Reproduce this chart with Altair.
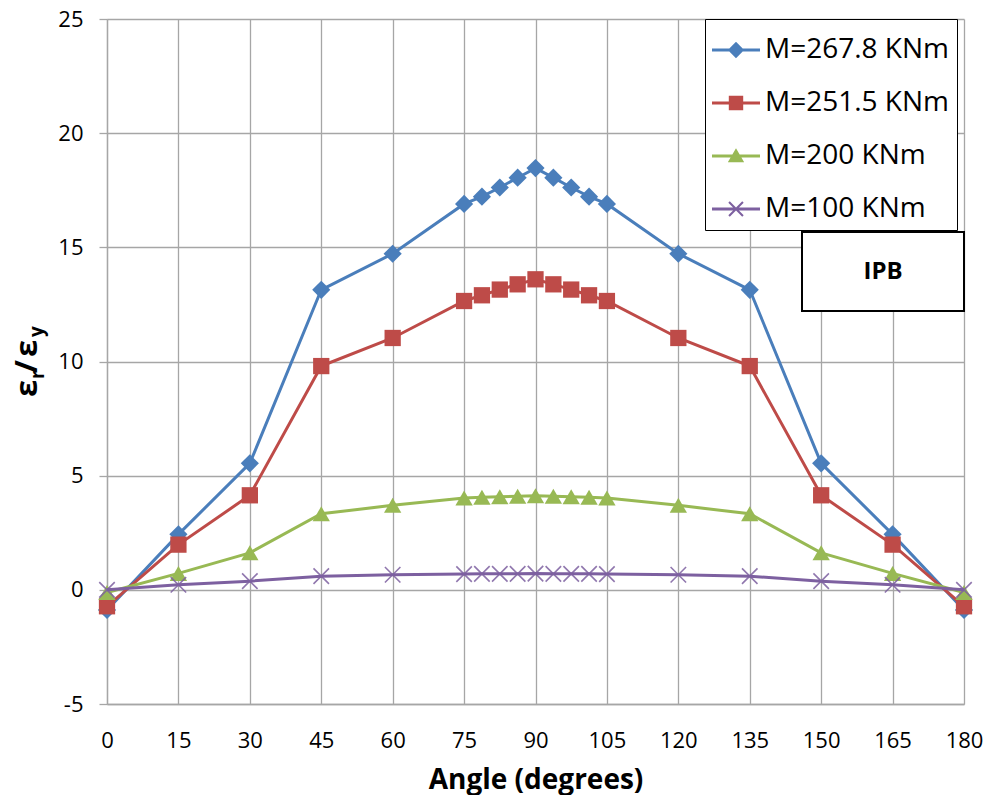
import altair as alt
import pandas as pd

# ---------------- data ----------------
angles = [0, 15, 30, 45, 60, 75, 78.75, 82.5, 86.25, 90, 93.75, 97.5, 101.25, 105, 120, 135, 150, 165, 180]
names = ["M=267.8 KNm", "M=251.5 KNm", "M=200 KNm", "M=100 KNm"]
m267 = [-0.88, 2.43, 5.54, 13.14, 14.72, 16.9, 17.22, 17.62, 18.05, 18.47, 18.05, 17.62, 17.22, 16.9, 14.72, 13.14, 5.54, 2.43, -0.88]
m251 = [-0.72, 1.98, 4.14, 9.8, 11.03, 12.65, 12.9, 13.15, 13.38, 13.6, 13.38, 13.15, 12.9, 12.65, 11.03, 9.8, 4.14, 1.98, -0.72]
m200 = [-0.12, 0.72, 1.62, 3.33, 3.7, 4.02, 4.05, 4.08, 4.1, 4.12, 4.1, 4.08, 4.05, 4.02, 3.7, 3.33, 1.62, 0.72, -0.12]
m100 = [0.0, 0.22, 0.38, 0.6, 0.66, 0.69, 0.7, 0.7, 0.7, 0.71, 0.7, 0.7, 0.7, 0.69, 0.66, 0.6, 0.38, 0.22, 0.0]
x_ticks = [0, 15, 30, 45, 60, 75, 90, 105, 120, 135, 150, 165, 180]
y_ticks = [-5, 0, 5, 10, 15, 20, 25]

colors = ["#4A7EBB", "#BE4B48", "#98B954", "#7D60A0"]
X_PATH = "M-1,-1L1,1M-1,1L1,-1"

rows = []
for n, vals in zip(names, [m267, m251, m200, m100]):
    for a, v in zip(angles, vals):
        rows.append({"series": n, "angle": a, "ratio": v})
df = pd.DataFrame(rows)

FONT = "Open Sans"
GRID = "#A6A6A6"

x_enc = alt.X(
    "angle:Q",
    scale=alt.Scale(domain=[0, 180], nice=False, zero=False),
    axis=alt.Axis(
        values=x_ticks, title="Angle (degrees)", grid=True, gridColor=GRID, gridWidth=1.3,
        domainColor=GRID, domainWidth=1.3, tickSize=0, labelFont=FONT, labelFontSize=22,
        labelColor="black", labelPadding=26, labelFlush=False,
        labelExpr="'' + datum.value",
        titleFont=FONT, titleFontSize=28,
        titleFontWeight="bold", titleColor="black", titleBaseline="alphabetic",
        titleY=84, titleX=428.5,
    ),
)
y_enc = alt.Y(
    "ratio:Q",
    scale=alt.Scale(domain=[-5, 25], nice=False, zero=False),
    axis=alt.Axis(
        values=y_ticks, title=None, grid=True, gridColor=GRID, gridWidth=1.3,
        domainColor=GRID, domainWidth=1.3, tickColor=GRID, tickWidth=1.3, tickSize=8,
        labelFont=FONT, labelFontSize=22, labelColor="black", labelPadding=16,
        labelFlush=False, labelExpr="'' + datum.value",
    ),
)

base = alt.Chart(df)
shapes = ["diamond", "square", "triangle-up", X_PATH]
sizes = [330, 265, 300, 240]

layers = []
for n, c, sh, sz in zip(names, colors, shapes, sizes):
    sub = base.transform_filter(alt.datum.series == n)
    layers.append(sub.mark_line(color=c, strokeWidth=3).encode(x=x_enc, y=y_enc))
    if sh == X_PATH:
        layers.append(sub.mark_point(shape=sh, filled=False, size=sz, color=c,
                                     strokeWidth=1.6, opacity=0.85).encode(x=x_enc, y=y_enc))
    else:
        layers.append(sub.mark_point(shape=sh, filled=True, size=sz, color=c,
                                     opacity=1).encode(x=x_enc, y=y_enc))

# legend symbols: line with marker (custom paths in unit square)
LINE = "M-1,-0.0625H1V0.0625H-1Z"
leg_paths = [
    LINE + "M0,-0.34L0.34,0L0,0.34L-0.34,0Z",
    LINE + "M-0.3,-0.3H0.3V0.3H-0.3Z",
    LINE + "M0,-0.32L0.34,0.26H-0.34Z",
    LINE + "M-0.32,-0.26L-0.26,-0.32L0.32,0.26L0.26,0.32Z"
         + "M-0.32,0.26L0.26,-0.32L0.32,-0.26L-0.26,0.32Z",
]
leg = alt.Legend(
    orient="none", legendX=598, legendY=0, title=None, strokeColor="black",
    fillColor="white", padding=7, rowPadding=15, labelFont=FONT, labelFontSize=28,
    labelColor="black", labelOffset=5, symbolSize=2304, symbolStrokeWidth=0,
    symbolOpacity=1, labelLimit=400,
)
legend_layer = base.transform_filter("false").mark_point(filled=True, size=2304, opacity=1).encode(
    x=x_enc, y=y_enc,
    color=alt.Color("series:N", scale=alt.Scale(domain=names, range=colors), legend=leg),
    shape=alt.Shape("series:N", scale=alt.Scale(domain=names, range=leg_paths), legend=leg),
)
layers.append(legend_layer)

# IPB box
one = alt.Chart(pd.DataFrame({"k": [0]}))
layers.append(one.mark_rect(fill="white", stroke="black", strokeWidth=2).encode(
    x=alt.value(695), x2=alt.value(857), y=alt.value(213), y2=alt.value(292)))
layers.append(one.mark_text(text="IPB", font=FONT, fontSize=24, fontWeight="bold",
                            color="black", align="center", baseline="middle").encode(
    x=alt.value(776), y=alt.value(253)))

# y-axis title  ε_r / ε_y
title_parts = [
    ("ε", 31, -70, 378),
    ("r", 19, -63, 360),
    ("/", 31, -70, 354),
    ("ε", 31, -70, 338),
    ("y", 19, -64, 318),
]
for t, fs, xv, yv in title_parts:
    layers.append(one.mark_text(text=t, font=FONT, fontSize=fs, fontWeight="bold",
                                color="black", angle=270, align="left",
                                baseline="alphabetic").encode(x=alt.value(xv), y=alt.value(yv)))

chart = alt.layer(*layers).properties(
    width=857, height=685,
    padding={"left": 99, "top": 11, "right": 19, "bottom": 91},
    autosize=alt.AutoSizeParams(type="none"),
    background="white",
).configure_view(stroke=None)

chart.save("out.html", embed_options={"renderer": "svg", "actions": False})
